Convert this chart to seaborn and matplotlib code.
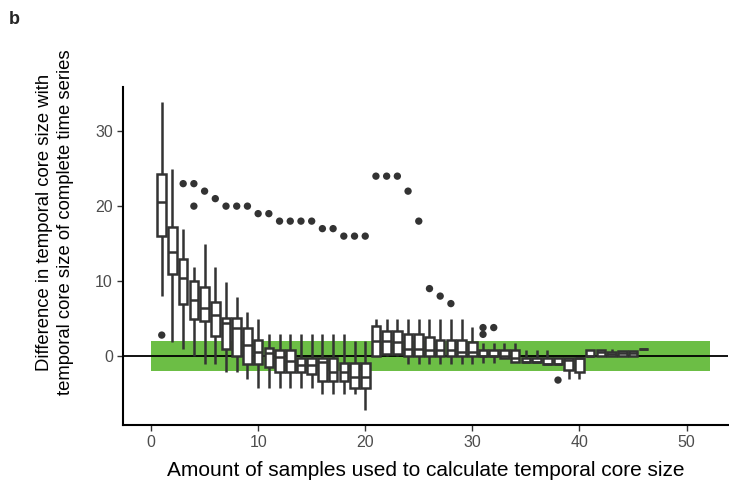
import numpy as np
import pandas as pd
import seaborn as sns
import matplotlib.pyplot as plt

# box statistics, one entry per sample size 1..46
sizes = list(range(1, 47))
whisk_lo = [8.0, 1.9, 1.0, 0.0, -1.1, -1.1, -2.1, -2.1, -3.0, -4.2,
            -4.2, -4.2, -4.2, -4.2, -4.2, -5.1, -5.1, -5.1, -5.1, -7.2,
            0.0, 0.0, 0.0, -1.1, -1.1, -1.1, -1.1, -1.1, -1.1, -1.0,
            -0.9, -0.9, -0.3, -0.8, -0.8, -0.8, -1.1, -1.1, -3.1, -3.1,
            0.0, 0.0, 0.0, 0.0, 0.0, 1.0]
q1 = [16.0, 11.0, 6.9, 4.9, 4.7, 2.7, 1.0, 0.0, -1.1, -1.1,
      -1.4, -2.1, -2.1, -2.1, -2.4, -3.3, -3.3, -3.3, -4.2, -4.2,
      0.0, 0.3, 0.3, 0.0, 0.0, 0.0, 0.0, 0.0, 0.0, 0.0,
      0.0, 0.0, -0.3, -0.8, -0.8, -0.8, -1.1, -1.1, -1.8, -2.1,
      0.0, 0.0, 0.0, 0.0, 0.0, 1.0]
median = [20.5, 13.9, 10.4, 7.5, 6.4, 5.5, 4.4, 3.8, 1.5, 0.6,
          0.4, -0.1, -0.7, -1.2, -1.2, -0.8, -2.1, -2.1, -2.8, -2.8,
          2.0, 2.0, 1.9, 0.9, 0.9, 0.8, 0.8, 0.8, 0.5, 0.5,
          0.0, 0.0, 0.0, -0.3, -0.8, -0.8, -1.1, -1.1, -0.5, -0.2,
          0.0, 0.5, 0.3, 0.4, 0.4, 1.0]
q3 = [24.3, 17.2, 12.9, 10.0, 9.2, 7.2, 5.1, 5.1, 3.8, 2.2,
      1.1, 0.8, 0.8, -0.2, -0.2, -0.2, -0.2, -0.9, -0.9, -0.9,
      4.0, 3.4, 3.4, 2.9, 2.9, 2.6, 2.1, 2.1, 2.1, 1.9,
      0.8, 0.8, 0.8, 0.8, -0.3, -0.3, -0.2, -0.2, -0.2, -0.2,
      0.8, 0.8, 0.5, 0.7, 0.7, 1.0]
whisk_hi = [33.9, 25.0, 16.9, 11.9, 14.9, 11.9, 9.9, 7.9, 5.9, 4.9,
            2.9, 2.9, 2.9, 2.9, 2.9, 2.9, 2.9, 2.9, 2.0, 2.0,
            4.9, 4.9, 4.9, 4.9, 4.9, 4.9, 4.9, 4.9, 4.9, 3.9,
            1.8, 1.8, 1.8, 1.8, 0.8, 0.8, 0.8, -0.2, -0.2, -0.2,
            0.8, 0.8, 0.9, 0.7, 0.7, 1.0]

# outliers
out_x = [1, 3, 4, 4, 5, 6, 7, 8, 9, 10, 11, 12, 13, 14, 15, 16, 17, 18, 19, 20,
         21, 22, 23, 24, 25, 26, 27, 28, 31, 31, 32, 38]
out_y = [2.8, 23, 23, 20, 22, 21, 20, 20, 20, 19, 19, 18, 18, 18, 18, 17, 17, 16, 16, 16,
         24, 24, 24, 22, 18, 9, 8, 7, 3.8, 2.9, 3.8, -3.2]

# tolerance band
band_x = [0, 52.2]
band_lo, band_hi = -2, 2

# 5 values per box -> quartiles land exactly on q1/median/q3
rows = []
for i, s in enumerate(sizes):
    for v in (whisk_lo[i], q1[i], median[i], q3[i], whisk_hi[i]):
        rows.append((s, v))
df = pd.DataFrame(rows, columns=["size", "diff"])
outliers = pd.DataFrame({"size": out_x, "diff": out_y})

sns.set_theme(style="ticks")
plt.rcParams['font.family'] = ['Liberation Sans', 'DejaVu Sans']

fig = plt.figure(figsize=(7.29, 4.83), dpi=100)
ax = fig.add_axes([0.169, 0.12, 0.83, 0.70])

ax.fill_between(band_x, band_lo, band_hi, color="#6CBE45", lw=0, zorder=0.5)
ax.axhline(0, color="black", lw=1.3, zorder=1)

sns.boxplot(data=df, x="size", y="diff", native_scale=True, whis=(0, 100),
            width=0.8, color="white", linecolor="#333333", linewidth=1.8,
            showfliers=False, showcaps=False, ax=ax)
sns.scatterplot(data=outliers, x="size", y="diff", color="#333333", s=28,
                edgecolor="none", ax=ax, zorder=3)

ax.set_xlim(-2.6, 53.9)
ax.set_ylim(-9.2, 35.9)
ax.set_xticks([0, 10, 20, 30, 40, 50])
ax.set_yticks([0, 10, 20, 30])
ax.tick_params(axis="both", length=4, width=1, color="#333333",
               labelsize=11.5, labelcolor="#4D4D4D")
sns.despine(ax=ax)
for sp in ("left", "bottom"):
    ax.spines[sp].set_linewidth(1.5)
    ax.spines[sp].set_color("black")

ax.set_xlabel("Amount of samples used to calculate temporal core size",
              fontsize=15, color="black")
ax.xaxis.set_label_coords(0.5, -0.105)
ax.set_ylabel("Difference in temporal core size with\ntemporal core size of complete time series",
              fontsize=13.3, color="black", linespacing=1.25)
ax.yaxis.set_label_coords(-0.082, 0.60)

fig.text(0.012, 0.95, "b", fontsize=13, fontweight="bold")

fig.savefig("out.png", dpi=100)
